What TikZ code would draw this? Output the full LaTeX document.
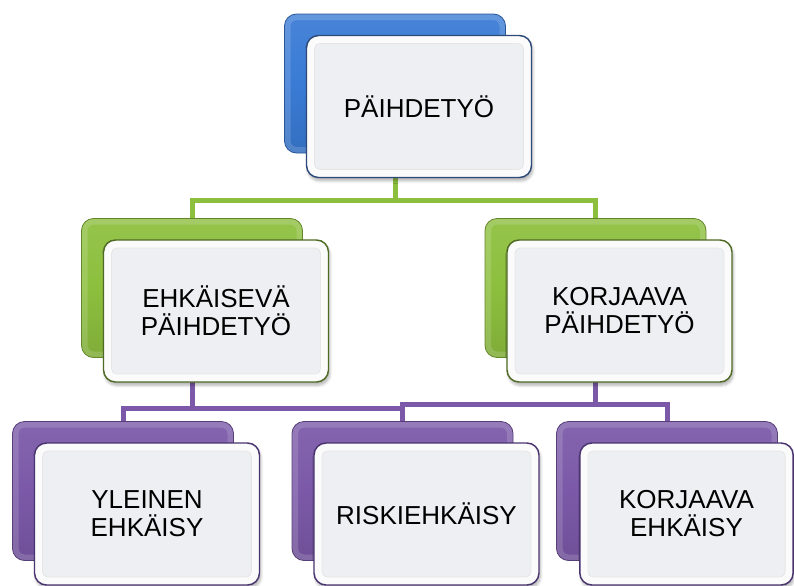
\documentclass[tikz,border=0pt]{standalone}
\usepackage{fontspec}
\setmainfont{Liberation Sans}
\usetikzlibrary{backgrounds,shadows.blur}

\definecolor{sininen}{HTML}{3A7BD5}
\definecolor{vihrea}{HTML}{8DBF3E}
\definecolor{violetti}{HTML}{7B59A8}
\definecolor{etupinta}{HTML}{EEEFF2}
\definecolor{reunasin}{HTML}{2E4A78}
\definecolor{reunavih}{HTML}{4E6A24}
\definecolor{reunavio}{HTML}{4A3470}

\begin{document}
\begin{tikzpicture}[x=0.75pt, y=-0.75pt,
 takalaatta/.style={rounded corners=9pt, minimum width=165.75pt, minimum height=104.25pt,
   draw=#1!70!black, line width=0.6pt, top color=#1!93!white, bottom color=#1!90!black, middle color=#1,
   path picture={\draw[white, opacity=.15, line width=9pt] (path picture bounding box.south west) rectangle (path picture bounding box.north east);}},
 etulaatta/.style={rounded corners=9pt, minimum width=168.75pt, minimum height=106.5pt,
   draw=#1, line width=1.1pt, fill=etupinta, align=center, font=\fontsize{19.5}{21}\selectfont,
   blur shadow={shadow blur steps=6, shadow xshift=1pt, shadow yshift=-2.5pt, shadow opacity=30},
   path picture={
     \draw[white, opacity=.8, line width=12pt] (path picture bounding box.south west) rectangle (path picture bounding box.north east);
     \draw[black!10, line width=0.5pt, rounded corners=4pt] ([shift={(6pt,6pt)}]path picture bounding box.south west) rectangle ([shift={(-6pt,-6pt)}]path picture bounding box.north east);}},
 yhteys/.style={line width=3.75pt, draw=#1}
]
 \useasboundingbox (0,0) rectangle (794,586);

 % takimmaiset laatat
 \node[takalaatta=sininen] (paaT) at (395,83.5) {};
 \node[takalaatta=vihrea] (ehkT) at (192,288) {};
 \node[takalaatta=vihrea] (korT) at (595.5,288) {};
 \node[takalaatta=violetti] (ylT) at (123,491) {};
 \node[takalaatta=violetti] (riT) at (402.5,491) {};
 \node[takalaatta=violetti] (keT) at (667,491) {};

 % etummaiset laatat
 \node[etulaatta=reunasin] (paa) at ([shift={(24,23)}]paaT) {PÄIHDETYÖ};
 \node[etulaatta=reunavih] (ehk) at ([shift={(24,23)}]ehkT) {EHKÄISEVÄ\\PÄIHDETYÖ};
 \node[etulaatta=reunavih] (kor) at ([shift={(24,23)}]korT) {KORJAAVA\\PÄIHDETYÖ};
 \node[etulaatta=reunavio] (yl) at ([shift={(24,23)}]ylT) {YLEINEN\\EHKÄISY};
 \node[etulaatta=reunavio] (ri) at ([shift={(24,23)}]riT) {RISKIEHKÄISY};
 \node[etulaatta=reunavio, minimum width=160pt] (ke) at ([shift={(19.5,23)}]keT) {KORJAAVA\\EHKÄISY};

 \begin{scope}[on background layer]
  \draw[yhteys=vihrea] (paaT.south) -- ++(0,47) -| (ehkT.north);
  \draw[yhteys=vihrea] (paaT.south) -- ++(0,47) -| (korT.north);
  \draw[yhteys=violetti] (ehkT.south) -- ++(0,51) -| (ylT.north);
  \draw[yhteys=violetti] (ehkT.south) -- ++(0,51) -| (riT.north);
  \draw[yhteys=violetti] (korT.south) -- ++(0,47) -| (riT.north);
  \draw[yhteys=violetti] (korT.south) -- ++(0,47) -| (keT.north);
 \end{scope}
\end{tikzpicture}
\end{document}
